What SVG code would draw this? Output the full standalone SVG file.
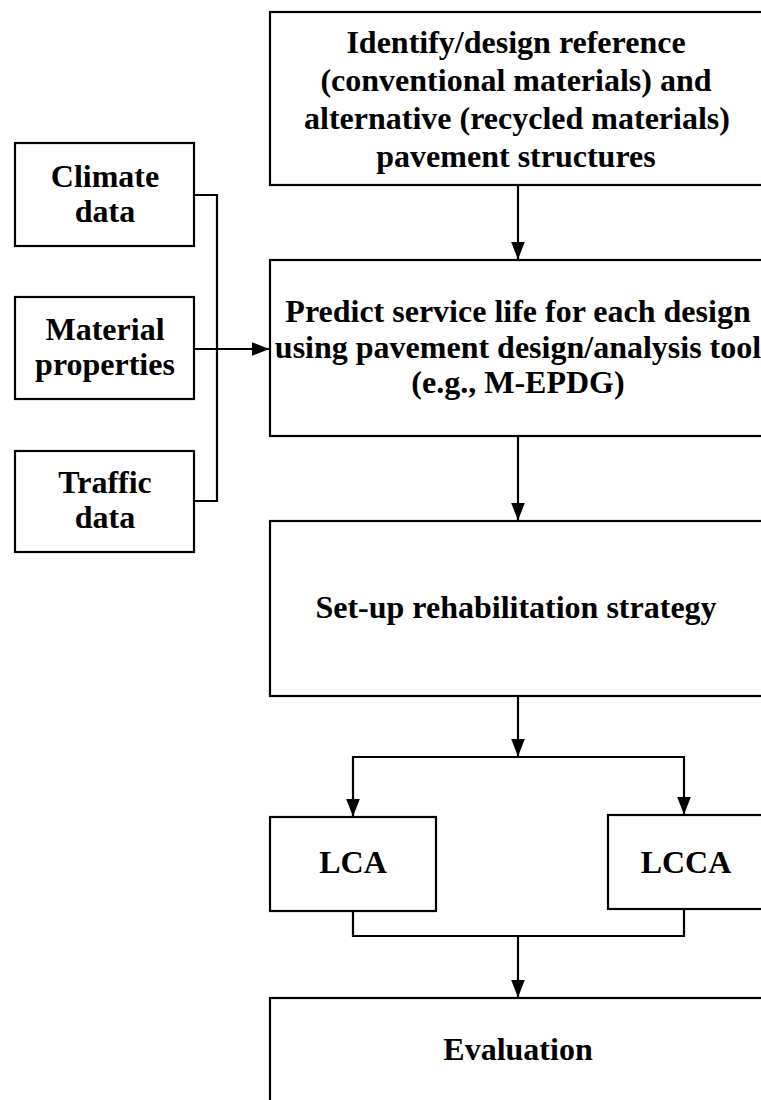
<svg xmlns="http://www.w3.org/2000/svg" width="761" height="1100" viewBox="0 0 761 1100">
<style>
.box{fill:#fff;stroke:#000;stroke-width:2.2}
.t{font-family:"Liberation Serif","Times New Roman",serif;font-weight:bold;font-size:32px;fill:#000;text-anchor:middle}
.c{fill:none;stroke:#000;stroke-width:2.2}
</style>
<defs>
<marker id="ah" markerUnits="userSpaceOnUse" markerWidth="18" markerHeight="14" viewBox="0 0 18 14" refX="17.5" refY="7" orient="auto">
<path d="M0,0 L18,7 L0,14 Z" fill="#000"/>
</marker>
</defs>
<rect width="761" height="1100" fill="#fff"/>
<g id="identify">
<rect class="box" x="270" y="12" width="496" height="173"/>
<text class="t" x="516" y="53">Identify/design reference</text>
<text class="t" x="516" y="91">(conventional materials) and</text>
<text class="t" x="517" y="129">alternative (recycled materials)</text>
<text class="t" x="516" y="167">pavement structures</text>
</g>
<g id="predict">
<rect class="box" x="270" y="260" width="496" height="176"/>
<text class="t" x="518" y="322">Predict service life for each design</text>
<text class="t" x="518" y="358">using pavement design/analysis tool</text>
<text class="t" x="518" y="393">(e.g., M-EPDG)</text>
</g>
<g id="setup">
<rect class="box" x="270" y="521" width="496" height="175"/>
<text class="t" x="516" y="618">Set-up rehabilitation strategy</text>
</g>
<g id="lca">
<rect class="box" x="270" y="817" width="166" height="94"/>
<text class="t" x="353" y="873">LCA</text>
</g>
<g id="lcca">
<rect class="box" x="608" y="815" width="160" height="94"/>
<text class="t" x="686" y="873">LCCA</text>
</g>
<g id="evaluation">
<rect class="box" x="270" y="998" width="496" height="120"/>
<text class="t" x="518" y="1060">Evaluation</text>
</g>
<g id="climate">
<rect class="box" x="15" y="143" width="179" height="103"/>
<text class="t" x="105" y="187">Climate</text>
<text class="t" x="105" y="222">data</text>
</g>
<g id="material">
<rect class="box" x="15" y="297" width="179" height="102"/>
<text class="t" x="105" y="340">Material</text>
<text class="t" x="105" y="375">properties</text>
</g>
<g id="traffic">
<rect class="box" x="15" y="451" width="179" height="101"/>
<text class="t" x="105" y="493">Traffic</text>
<text class="t" x="105" y="528">data</text>
</g>
<g id="connectors">
<path class="c" d="M194,195 H217 V501 H194"/>
<line class="c" x1="194" y1="349" x2="269" y2="349" marker-end="url(#ah)"/>
<line class="c" x1="518" y1="185" x2="518" y2="259" marker-end="url(#ah)"/>
<line class="c" x1="518" y1="436" x2="518" y2="520" marker-end="url(#ah)"/>
<line class="c" x1="518" y1="696" x2="518" y2="756" marker-end="url(#ah)"/>
<path class="c" d="M353,790 V757 H684 V790"/>
<line class="c" x1="353" y1="790" x2="353" y2="816" marker-end="url(#ah)"/>
<line class="c" x1="684" y1="790" x2="684" y2="814" marker-end="url(#ah)"/>
<path class="c" d="M353,911 V936 H684 V909"/>
<line class="c" x1="518" y1="936" x2="518" y2="997" marker-end="url(#ah)"/>
</g>
</svg>
